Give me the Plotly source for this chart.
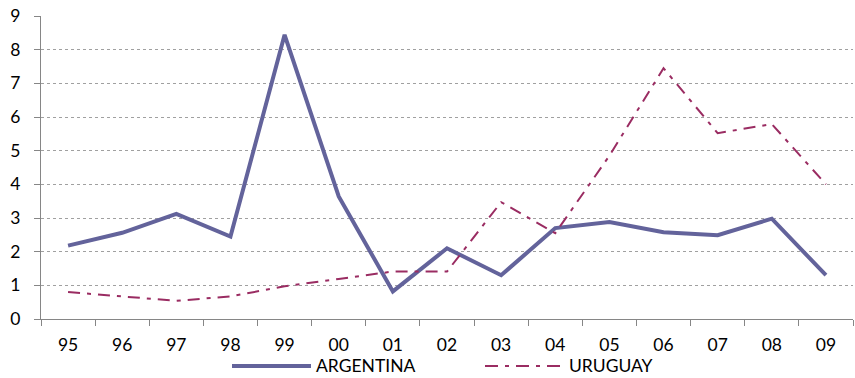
import plotly.graph_objects as go

years = ["95", "96", "97", "98", "99", "00", "01", "02", "03", "04", "05", "06", "07", "08", "09"]
argentina = [2.18, 2.56, 3.12, 2.45, 8.44, 3.64, 0.82, 2.1, 1.3, 2.7, 2.88, 2.58, 2.49, 2.98, 1.3]
uruguay = [0.8, 0.68, 0.54, 0.67, 0.97, 1.19, 1.41, 1.41, 3.47, 2.55, 4.85, 7.45, 5.52, 5.79, 4.0]

ARG_COLOR = "#63639B"
URU_COLOR = "#9A2C62"
FONT = "Lato"
FSIZE = 17.5

fig = go.Figure()
fig.add_trace(go.Scatter(x=years, y=argentina, mode="lines", name="ARGENTINA",
                         line=dict(color=ARG_COLOR, width=4), showlegend=False))
fig.add_trace(go.Scatter(x=years, y=uruguay, mode="lines", name="URUGUAY",
                         line=dict(color=URU_COLOR, width=2, dash="12px,7px,4px,7px"),
                         showlegend=False))

# legend drawn below the axis
legend_y = -0.155
fig.add_shape(type="line", xref="paper", yref="paper", x0=(232 - 41) / 812, x1=(311 - 41) / 812,
              y0=legend_y, y1=legend_y, line=dict(color=ARG_COLOR, width=4))
fig.add_shape(type="line", xref="paper", yref="paper", x0=(485 - 41) / 812, x1=(563 - 41) / 812,
              y0=legend_y, y1=legend_y, line=dict(color=URU_COLOR, width=2, dash="13px,7px,4px,7px"))
fig.add_annotation(xref="paper", yref="paper", x=(314 - 41) / 812, y=legend_y, text="ARGENTINA",
                   showarrow=False, xanchor="left", yanchor="middle",
                   font=dict(family=FONT, size=FSIZE, color="#000"))
fig.add_annotation(xref="paper", yref="paper", x=(567 - 41) / 812, y=legend_y, text="URUGUAY",
                   showarrow=False, xanchor="left", yanchor="middle",
                   font=dict(family=FONT, size=FSIZE, color="#000"))

fig.update_layout(
    width=855, height=378,
    margin=dict(l=41, r=2, t=16, b=59),
    paper_bgcolor="white", plot_bgcolor="white",
    font=dict(family=FONT, size=FSIZE, color="#000"),
    xaxis=dict(type="category", tickson="boundaries", ticks="outside", ticklen=6,
               tickcolor="#868686", showline=True, linecolor="#868686", linewidth=1,
               showgrid=False, ticklabelstandoff=10, range=[-0.5, 14.5]),
    yaxis=dict(range=[0, 9], dtick=1, showgrid=True, gridcolor="#A0A0A0", griddash="dot",
               gridwidth=1, showline=True, linecolor="#868686", linewidth=1,
               ticks="outside", ticklen=6, tickcolor="#868686", zeroline=False,
               ticklabelstandoff=10),
)

fig.write_html("out.html")
